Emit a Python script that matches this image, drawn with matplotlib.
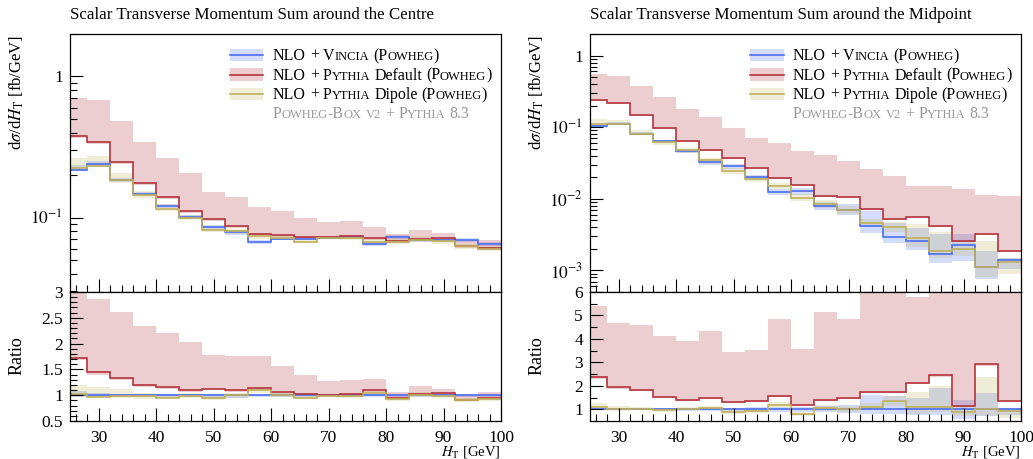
import re
import numpy as np
import matplotlib
matplotlib.use('Agg')
import matplotlib.pyplot as plt
from matplotlib.ticker import LogLocator, FuncFormatter, MultipleLocator, NullFormatter
from matplotlib.patches import Rectangle
from matplotlib.lines import Line2D

plt.rcParams['font.family'] = ['Liberation Serif', 'DejaVu Serif']
plt.rcParams['mathtext.fontset'] = 'stix'

W, H, DPI = 1033, 459, 100

# ---------------- data ----------------
ht_edges = list(range(24, 101, 4))

# Left: around the Centre
centre_vincia = [0.219, 0.238, 0.186, 0.147, 0.121, 0.1016, 0.0863, 0.0796, 0.0673, 0.0710,
                 0.0710, 0.0722, 0.0725, 0.0648, 0.0730, 0.0691, 0.0691, 0.0691, 0.0648]
centre_vincia_lo = [0.2125, 0.231, 0.180, 0.1425, 0.1175, 0.0985, 0.0812, 0.0750, 0.0653, 0.0689,
                    0.0689, 0.0700, 0.0703, 0.0629, 0.0708, 0.0670, 0.0670, 0.0670, 0.0629]
centre_vincia_hi = [0.237, 0.250, 0.1915, 0.1515, 0.1245, 0.1046, 0.0889, 0.0820, 0.0693, 0.0731,
                    0.0731, 0.0744, 0.0747, 0.0667, 0.0752, 0.0712, 0.0712, 0.0712, 0.0667]

centre_default = [0.378, 0.343, 0.247, 0.176, 0.140, 0.112, 0.0973, 0.0872, 0.0770, 0.0749,
                  0.0731, 0.0725, 0.0737, 0.0713, 0.0686, 0.0703, 0.0719, 0.0627, 0.0609]
centre_default_lo = [0.367, 0.333, 0.240, 0.171, 0.136, 0.1086, 0.0944, 0.0846, 0.0747, 0.0727,
                     0.0709, 0.0703, 0.0715, 0.0692, 0.0665, 0.0682, 0.0697, 0.0608, 0.0591]
centre_default_hi = [0.703, 0.681, 0.487, 0.345, 0.266, 0.206, 0.153, 0.140, 0.118, 0.111,
                     0.0987, 0.0924, 0.0943, 0.0855, 0.0770, 0.0815, 0.0774, 0.0691, 0.0693]

centre_dipole = [0.223, 0.231, 0.184, 0.145, 0.115, 0.100, 0.0811, 0.0799, 0.0740, 0.0713,
                 0.0676, 0.0715, 0.0713, 0.0674, 0.0672, 0.0694, 0.0680, 0.0627, 0.0603]
centre_dipole_lo = [0.219, 0.228, 0.177, 0.137, 0.112, 0.096, 0.079, 0.076, 0.0705, 0.069,
                    0.066, 0.070, 0.069, 0.065, 0.065, 0.067, 0.065, 0.060, 0.058]
centre_dipole_hi = [0.263, 0.274, 0.208, 0.154, 0.124, 0.105, 0.085, 0.083, 0.077, 0.074,
                    0.070, 0.074, 0.073, 0.070, 0.070, 0.074, 0.071, 0.065, 0.063]

# Right: around the Midpoint
mid_vincia = [0.1026, 0.112, 0.0811, 0.0633, 0.0459, 0.0322, 0.0283, 0.0201, 0.0124, 0.0128,
              0.00798, 0.00702, 0.00419, 0.00297, 0.0026, 0.0017, 0.00227, 0.0011, 0.0014]
mid_vincia_lo = [0.0975, 0.1064, 0.0770, 0.0601, 0.0431, 0.0299, 0.0263, 0.0185, 0.0112, 0.0113,
                 0.00702, 0.00597, 0.00335, 0.00238, 0.00195, 0.00128, 0.00136, 0.00077, 0.00105]
mid_vincia_hi = [0.1088, 0.1176, 0.0852, 0.0665, 0.0487, 0.0345, 0.0303, 0.0217, 0.0136, 0.0143,
                 0.00894, 0.00842, 0.0067, 0.0046, 0.0039, 0.00323, 0.0032, 0.00187, 0.00147]

mid_default = [0.2425, 0.218, 0.148, 0.0963, 0.0633, 0.0474, 0.0371, 0.0268, 0.0195, 0.01535,
               0.0110, 0.01044, 0.00725, 0.0052, 0.00554, 0.00419, 0.00259, 0.00321, 0.00189]
mid_default_lo = [0.235, 0.211, 0.1435, 0.0934, 0.0614, 0.0460, 0.0360, 0.0260, 0.0189, 0.0149,
                  0.01067, 0.01013, 0.00703, 0.00504, 0.00537, 0.00406, 0.00251, 0.00311, 0.00183]
mid_default_hi = [0.555, 0.525, 0.372, 0.261, 0.180, 0.139, 0.0973, 0.0705, 0.0601, 0.0459,
                  0.0412, 0.034, 0.026, 0.021, 0.0151, 0.0152, 0.01366, 0.01138, 0.0108]

mid_dipole = [0.1107, 0.112, 0.0811, 0.0613, 0.0474, 0.0343, 0.0246, 0.019, 0.01486, 0.01023,
              0.00843, 0.00702, 0.00457, 0.00402, 0.00288, 0.00189, 0.0020, 0.0011, 0.0013]
mid_dipole_lo = [0.103, 0.106, 0.077, 0.057, 0.044, 0.031, 0.022, 0.017, 0.0135, 0.0092,
                 0.0075, 0.0062, 0.0040, 0.0034, 0.0021, 0.0015, 0.0016, 0.0008, 0.0009]
mid_dipole_hi = [0.130, 0.126, 0.090, 0.066, 0.051, 0.037, 0.027, 0.021, 0.0165, 0.0115,
                 0.0095, 0.0080, 0.0053, 0.0047, 0.0045, 0.0034, 0.0027, 0.0026, 0.0015]

titles = ['Scalar Transverse Momentum Sum around the Centre',
          'Scalar Transverse Momentum Sum around the Midpoint']

C_VIN = '#4a6ef2'
C_DEF = '#b5333d'
C_DIP = '#bfb05c'
BAND_ALPHA = 0.24

legend_rows = [
    ([("NLO + ", False), ("Vincia", True), (" (", False), ("Powheg", True), (")", False)], C_VIN),
    ([("NLO + ", False), ("Pythia", True), (" Default (", False), ("Powheg", True), (")", False)], C_DEF),
    ([("NLO + ", False), ("Pythia", True), (" Dipole (", False), ("Powheg", True), (")", False)], C_DIP),
]
legend_note = [("Powheg-Box v2", True), (" + ", False), ("Pythia", True), (" 8.3", False)]

# ---------------- figure ----------------
fig = plt.figure(figsize=(W / DPI, H / DPI), dpi=DPI)


def px_rect(x0, y0, x1, y1):
    return [x0 / W, 1 - y1 / H, (x1 - x0) / W, (y1 - y0) / H]


def logfmt(v, pos):
    e = int(round(np.log10(v)))
    return '1' if e == 0 else r'$10^{%d}$' % e


def style_axes(a):
    a.tick_params(which='both', direction='in', top=False, right=False, labelsize=12.5,
                  width=0.8)
    a.tick_params(axis='y', pad=5)
    a.tick_params(axis='x', pad=6.5)
    a.tick_params(which='major', length=9.5)
    a.tick_params(which='minor', length=5)
    for s in a.spines.values():
        s.set_linewidth(0.9)


def panel(x0, x1, sets, ylim, rylim, rmaj, rmin, title):
    ax = fig.add_axes(px_rect(x0, 34, x1, 292))
    rax = fig.add_axes(px_rect(x0, 292, x1, 421))
    ref = np.array(sets[0][0])
    for c, lo, hi, col in sets:
        ax.stairs(hi, ht_edges, baseline=lo, fill=True, color=col, alpha=BAND_ALPHA, lw=0)
        rax.stairs(np.array(hi) / ref, ht_edges, baseline=np.array(lo) / ref, fill=True,
                   color=col, alpha=BAND_ALPHA, lw=0)
    for c, lo, hi, col in sets:
        ax.stairs(c, ht_edges, baseline=None, color=col, lw=1.2)
        rax.stairs(np.array(c) / ref, ht_edges, baseline=None, color=col, lw=1.2)
    ax.set_yscale('log')
    ax.set_ylim(*ylim)
    ax.yaxis.set_major_locator(LogLocator(base=10, numticks=12))
    ax.yaxis.set_minor_locator(LogLocator(base=10, subs=np.arange(2, 10), numticks=12))
    ax.yaxis.set_major_formatter(FuncFormatter(logfmt))
    ax.yaxis.set_minor_formatter(NullFormatter())
    rax.set_ylim(*rylim)
    rax.yaxis.set_major_locator(MultipleLocator(rmaj))
    rax.yaxis.set_minor_locator(MultipleLocator(rmin))
    rax.yaxis.set_major_formatter(FuncFormatter(lambda v, p: '%g' % v))
    for a in (ax, rax):
        a.set_xlim(25, 100)
        a.xaxis.set_major_locator(MultipleLocator(10))
        a.xaxis.set_minor_locator(MultipleLocator(2))
        style_axes(a)
    ax.tick_params(labelbottom=False)
    fig.text(x0 / W, 1 - 19 / H, title, fontsize=12.2, ha='left', va='baseline')
    fig.text((x0 - 53) / W, 1 - 35 / H, r'd$\sigma$/d$H_\mathrm{T}$ [fb/GeV]', fontsize=12,
             rotation=90, ha='center', va='top')
    fig.text((x0 - 53) / W, 1 - 356 / H, 'Ratio', fontsize=13, rotation=90,
             ha='center', va='center')
    fig.text(x1 / W, 1 - 452 / H, r'$H_\mathrm{T}$ [GeV]', fontsize=10.5, ha='right',
             va='center')
    return ax, rax


panel(70, 501,
      [(centre_vincia, centre_vincia_lo, centre_vincia_hi, C_VIN),
       (centre_default, centre_default_lo, centre_default_hi, C_DEF),
       (centre_dipole, centre_dipole_lo, centre_dipole_hi, C_DIP)],
      (0.0297, 2.0), (0.5, 3.0), 0.5, 0.1, titles[0])
panel(590, 1021,
      [(mid_vincia, mid_vincia_lo, mid_vincia_hi, C_VIN),
       (mid_default, mid_default_lo, mid_default_hi, C_DEF),
       (mid_dipole, mid_dipole_lo, mid_dipole_hi, C_DIP)],
      (5e-4, 2.0), (0.5, 6.0), 1, 0.5, titles[1])

# ---------------- legend with small caps ----------------
SC = 0.78
renderer = fig.canvas.get_renderer()
_w_cache = {}


def ext_w(s, size):
    key = (s, size)
    if key not in _w_cache:
        t = fig.text(0, 0, s, fontsize=size)
        _w_cache[key] = t.get_window_extent(renderer).width
        t.remove()
    return _w_cache[key]


def advance(tok, size):
    # rendered advance of tok, measured between two bars
    return ext_w('|' + tok + '|', size) - ext_w('||', size)


def runs_from(spec, size):
    runs = []
    for txt, sc in spec:
        if not sc:
            runs.append((txt, size))
        else:
            for ch in txt:
                if ch.islower() or ch.isdigit():
                    runs.append((ch.upper(), size * SC))
                else:
                    runs.append((ch, size))
    merged = []
    for t, s in runs:
        if merged and merged[-1][1] == s:
            merged[-1] = (merged[-1][0] + t, s)
        else:
            merged.append((t, s))
    return merged


def draw_sc(x_px, y_px, spec, size, color):
    x = x_px
    for t, s in runs_from(spec, size):
        for tok in re.split(r'( +)', t):
            if not tok:
                continue
            if tok.strip():
                fig.text(x / W, 1 - y_px / H, tok, fontsize=s, color=color,
                         ha='left', va='baseline')
            x += advance(tok, s)


LEG_SIZE = 11.5
for sw_x0, sw_x1, tx in ((230, 263, 273), (750, 784, 793)):
    for i, (spec, col) in enumerate(legend_rows):
        yc = 55 + 19.5 * i
        fig.add_artist(Rectangle((sw_x0 / W, 1 - (yc + 6) / H), (sw_x1 - sw_x0) / W, 12 / H,
                                 transform=fig.transFigure, facecolor=col,
                                 alpha=BAND_ALPHA, lw=0))
        fig.add_artist(Line2D([sw_x0 / W, sw_x1 / W], [1 - yc / H, 1 - yc / H],
                              transform=fig.transFigure, color=col, lw=1.2))
        draw_sc(tx, yc + 5, spec, LEG_SIZE, 'black')
    draw_sc(tx, 55 + 19.5 * 3 + 5, legend_note, LEG_SIZE, '#999999')

fig.savefig('out.png', dpi=DPI)
